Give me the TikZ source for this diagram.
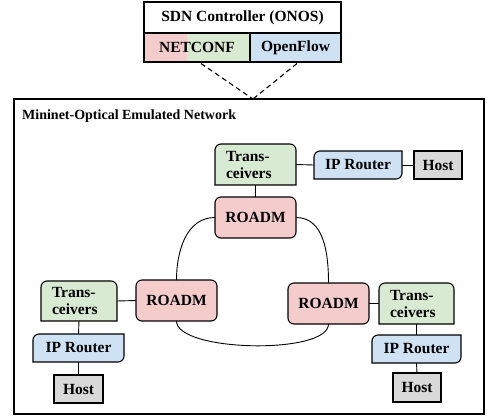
\documentclass[tikz,border=0pt]{standalone}
\usepackage{fontspec}
\setmainfont{Liberation Serif}
\usetikzlibrary{backgrounds}
\definecolor{redf}{HTML}{F4CCCC}
\definecolor{greenf}{HTML}{D9EAD3}
\definecolor{bluef}{HTML}{CFE2F3}
\definecolor{grayf}{HTML}{D9D9D9}
\tikzset{
  boxline/.style={line width=1.1pt},
  conn/.style={line width=0.9pt},
  dashline/.style={line width=1.1pt, dash pattern=on 5pt off 3.5pt},
  lbl/.style={font=\fontsize{15.5}{17}\selectfont\bfseries, inner sep=0pt, outer sep=0pt, align=center},
  roadm/.style={lbl, draw, boxline, fill=redf, rounded corners=6pt, minimum width=81pt, minimum height=41pt},
  hostbox/.style={lbl, draw, boxline, fill=grayf, minimum width=48pt, minimum height=28pt},
  rtext/.style={lbl, minimum height=28pt},
  tcvtext/.style={lbl, align=left, inner xsep=11pt, inner ysep=0pt, minimum height=41pt},
}
\newcommand\tcvoutline[1]{\path[draw, boxline, fill=greenf] (#1.south west) -- ([yshift=-6pt]#1.north west) arc[start angle=180,end angle=90,radius=6pt] -- ([xshift=-6pt]#1.north east) arc[start angle=90,end angle=0,radius=6pt] -- (#1.south east) -- cycle;}
\newcommand\routeroutline[1]{\path[draw, boxline, fill=bluef] (#1.north east) -- ([yshift=6pt]#1.south east) arc[start angle=0,end angle=-90,radius=6pt] -- (#1.south west) -- ([yshift=-6pt]#1.north west) arc[start angle=180,end angle=90,radius=6pt] -- cycle;}
\begin{document}
\begin{tikzpicture}[x=1pt,y=-1pt]
\useasboundingbox (0,0) rectangle (487,416);
% outer emulated network box
\node[draw, boxline, inner sep=0pt, outer sep=0pt, minimum width=470pt, minimum height=315pt, anchor=north west] (net) at (14,99) {};
\node[font=\fontsize{14}{16}\selectfont\bfseries, inner sep=0pt, anchor=base west] (netlbl) at (22,119.5) {Mininet-Optical Emulated Network};
% controller
\node[lbl, draw, boxline, fill=white, minimum width=197pt, minimum height=31pt] (ctrl) at (242.5,17.5) {SDN Controller (ONOS)};
\node[lbl, draw, boxline, minimum width=106pt, minimum height=29pt] (netconf) at (197,47.5) {NETCONF};
\node[lbl, draw, boxline, fill=bluef, minimum width=91pt, minimum height=29pt] (openflow) at (295.5,47.5) {OpenFlow};
\coordinate (apex) at (253,99);
\draw[dashline] ([xshift=4pt,yshift=-1.5pt]netconf.south) -- (apex);
\draw[dashline] ([xshift=1.5pt,yshift=-1.5pt]openflow.south) -- (apex);
% top site
\node[tcvtext, text width=59pt] (tT) at (255.5,164.5) {Trans-\\ceivers};
\node[rtext, minimum width=88pt] (tR) at (358,165) {IP Router};
\node[hostbox] (tH) at (438,165) {Host};
\node[roadm] (tRo) at (255.5,217.5) {ROADM};
% left site
\node[roadm] (lRo) at (176.5,300.5) {ROADM};
\node[tcvtext, text width=54pt, minimum height=40pt] (lT) at (79,301) {Trans-\\ceivers};
\node[rtext, minimum width=91pt] (lR) at (78.5,348) {IP Router};
\node[hostbox, minimum width=49pt] (lH) at (78.5,389) {Host};
% right site
\node[roadm] (rRo) at (328.5,303.5) {ROADM};
\node[tcvtext, text width=53pt] (rT) at (416.5,303.5) {Trans-\\ceivers};
\node[rtext, minimum width=89pt] (rR) at (416.5,349) {IP Router};
\node[hostbox, minimum height=29pt] (rH) at (417,387.5) {Host};
% shaped outlines behind text
\begin{scope}[on background layer]
\fill[redf] (netconf.south west) rectangle ([xshift=43pt]netconf.north west);
\fill[greenf] ([xshift=43pt]netconf.south west) rectangle (netconf.north east);
\tcvoutline{tT}
\tcvoutline{lT}
\tcvoutline{rT}
\routeroutline{tR}
\routeroutline{lR}
\routeroutline{rR}
\end{scope}
% connectors
\draw[conn] (tT.south) -- (tRo.north);
\draw[conn] (tT.east) -- (tR.west);
\draw[conn] (tR.east) -- (tH.west);
\draw[conn] (lT.east) -- (lRo.west);
\draw[conn] (lT.south) -- (lR.north);
\draw[conn] (lR.south) -- (lH.north);
\draw[conn] (rRo.east) -- (rT.west);
\draw[conn] (rT.south) -- (rR.north);
\draw[conn] (rR.south) -- (rH.north);
% fibre ring
\draw[conn] (tRo.west) to[out=180,in=90] (lRo.north);
\draw[conn] (tRo.east) to[out=0,in=90] (rRo.north);
\draw[conn] (lRo.south) .. controls +(0,31) and +(0,31) .. (rRo.south);
\end{tikzpicture}
\end{document}
